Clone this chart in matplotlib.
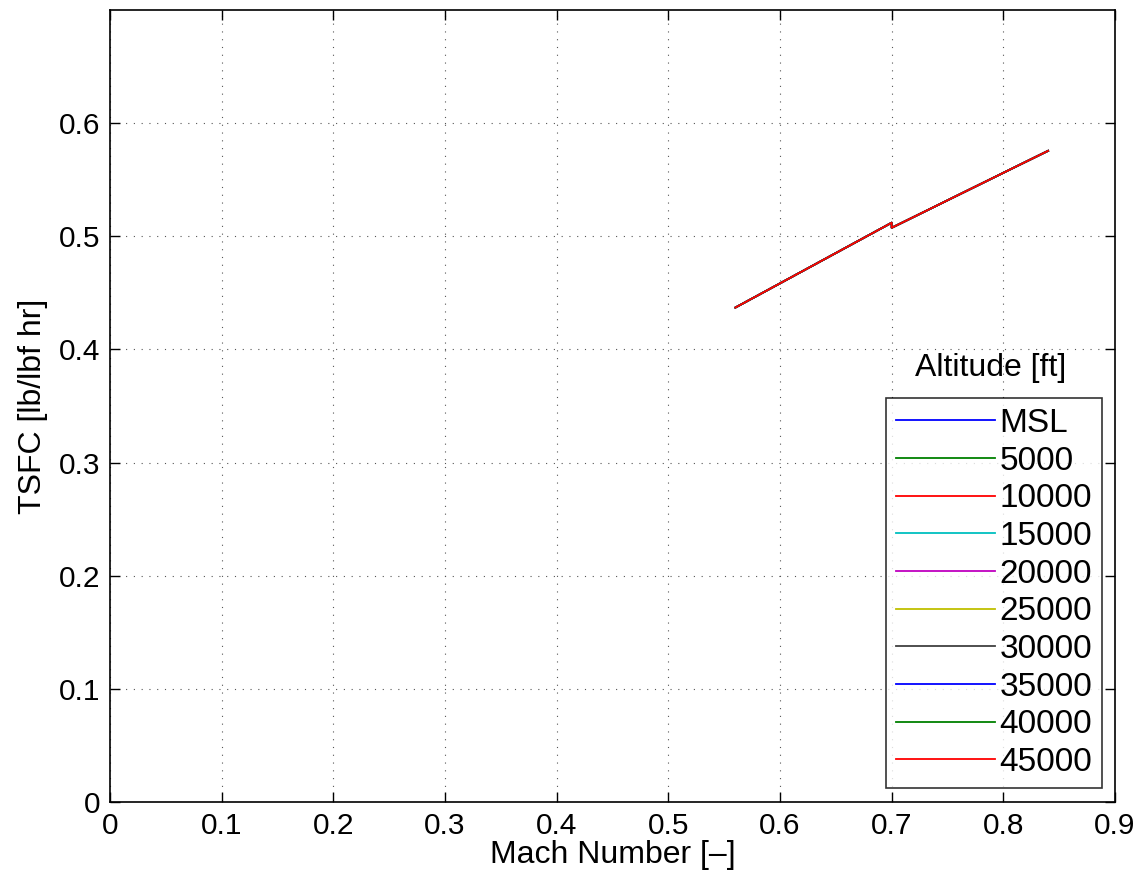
import matplotlib.pyplot as plt

plt.rcParams['font.family'] = ['Liberation Sans', 'DejaVu Sans']

# Altitudes shown in the legend
altitudes = ['MSL', '5000', '10000', '15000', '20000', '25000',
             '30000', '35000', '40000', '45000']
colors = ['#0000ff', '#008000', '#ff0000', '#00bfbf', '#bf00bf',
          '#bfbf00', '#404040', '#0000ff', '#008000', '#ff0000']

# TSFC vs Mach (all curves lie on top of each other, red drawn last)
mach = [0.56, 0.60, 0.65, 0.70, 0.70, 0.75, 0.80, 0.84]
tsfc = [0.437, 0.4584, 0.4852, 0.512, 0.5075, 0.5318, 0.5561, 0.5755]

fig = plt.figure(figsize=(11.46, 8.83), dpi=100)
ax = fig.add_axes([0.096, 0.0917, 0.877, 0.897])

for alt, c in zip(altitudes, colors):
    ax.plot(mach, tsfc, color=c, linewidth=1.3, label=alt)

ax.set_xlim(0, 0.9)
ax.set_ylim(0, 0.7)
ax.set_xticks([0, 0.1, 0.2, 0.3, 0.4, 0.5, 0.6, 0.7, 0.8, 0.9])
ax.set_xticklabels(['0', '0.1', '0.2', '0.3', '0.4', '0.5', '0.6', '0.7', '0.8', '0.9'])
ax.set_yticks([0, 0.1, 0.2, 0.3, 0.4, 0.5, 0.6])
ax.set_yticklabels(['0', '0.1', '0.2', '0.3', '0.4', '0.5', '0.6'])
ax.tick_params(direction='in', length=7, width=1, labelsize=21.5, top=True, right=True, pad=7)
ax.grid(True, linestyle=(0, (1, 6)), color='#555555', linewidth=0.8)
for s in ax.spines.values():
    s.set_linewidth(1.2)

ax.set_xlabel('Mach Number [–]', fontsize=23, labelpad=0)
ax.set_ylabel('TSFC [lb/lbf hr]', fontsize=23, labelpad=8)

leg = ax.legend(loc='lower right', bbox_to_anchor=(0.9875, 0.0178), fontsize=24,
                frameon=True, fancybox=False, edgecolor='black',
                handlelength=2.95, handletextpad=0.15, labelspacing=0.2,
                borderpad=0.3, borderaxespad=0)
leg.get_frame().set_linewidth(1.2)
ax.text(0.876, 1 - (368 - 10) / 792, 'Altitude [ft]', fontsize=23,
        ha='center', va='center', transform=ax.transAxes)

fig.savefig('out.png', dpi=100)
